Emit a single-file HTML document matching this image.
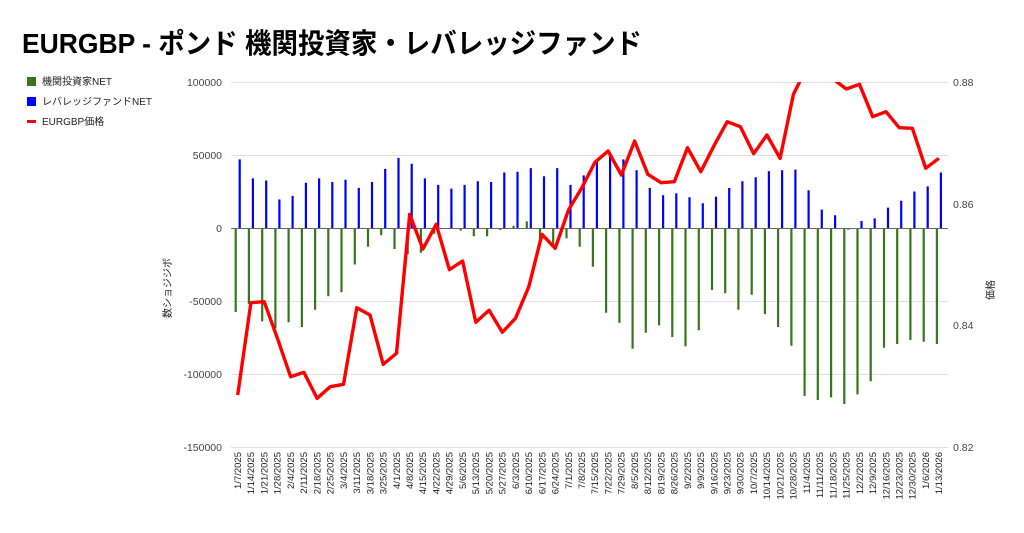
<!DOCTYPE html>
<html><head><meta charset="utf-8"><style>
body{margin:0;background:#fff;width:1024px;height:528px;overflow:hidden}
svg text{font-family:"Liberation Sans","Noto Sans CJK JP",sans-serif}
</style></head><body>
<svg width="1024" height="528" viewBox="0 0 1024 528" xmlns="http://www.w3.org/2000/svg">
<text x="22" y="53" font-size="28" font-weight="bold" fill="#000" textLength="620" lengthAdjust="spacingAndGlyphs">EURGBP - ポンド 機関投資家・レバレッジファンド</text>
<rect x="27" y="77" width="9" height="9" fill="#38761d"/>
<text x="42" y="85" font-size="10" fill="#222">機関投資家NET</text>
<rect x="27" y="97" width="9" height="9" fill="#0000ff"/>
<text x="42" y="105" font-size="10" fill="#222">レバレッジファンドNET</text>
<rect x="27" y="120" width="9" height="3" fill="#ff0000"/>
<text x="42" y="125" font-size="10" fill="#222">EURGBP価格</text>
<g stroke="#e0e0e0" stroke-width="1">
<line x1="231" x2="948" y1="82.5" y2="82.5"/><line x1="231" x2="948" y1="155.5" y2="155.5"/>
<line x1="231" x2="948" y1="301.5" y2="301.5"/><line x1="231" x2="948" y1="374.5" y2="374.5"/>
<line x1="231" x2="948" y1="447.5" y2="447.5"/></g>
<g font-size="10.5" fill="#444" text-anchor="end">
<text x="222" y="86">100000</text><text x="222" y="159">50000</text><text x="222" y="232">0</text>
<text x="222" y="305">-50000</text><text x="222" y="378">-100000</text><text x="222" y="451">-150000</text></g>
<g font-size="10.5" fill="#444">
<text x="953" y="86">0.88</text><text x="953" y="208">0.86</text><text x="953" y="329">0.84</text><text x="953" y="451">0.82</text></g>
<text transform="translate(171,288) rotate(-90)" font-size="10" text-anchor="middle" fill="#222">数ショジジボ</text>
<text transform="translate(994,290) rotate(-90)" font-size="10" text-anchor="middle" fill="#222">価格</text>
<path stroke="#38761d" stroke-width="2.2" fill="none" d="M235.7 228V312M248.9 228V304M262.2 228V321.4M275.4 228V328M288.6 228V322.3M301.9 228V327M315.1 228V309.8M328.3 228V296.3M341.5 228V292.2M354.8 228V264.5M368 228V246.7M381.2 228V235.3M394.5 228V249M407.7 228V254.3M420.9 228V252.8M434.2 228V233.8M447.4 228V229M460.6 228V230.6M473.8 228V236.3M487.1 228V236.3M500.3 228V230M513.5 228V225.8M526.8 228V221.4M540 228V239.7M553.2 228V244.6M566.5 228V238.2M579.7 228V246.7M592.9 228V266.7M606.1 228V312.7M619.4 228V322.9M632.6 228V348.6M645.8 228V332.7M659.1 228V325.4M672.3 228V337M685.5 228V346.3M698.8 228V330.2M712 228V290M725.2 228V293.3M738.4 228V309.8M751.7 228V294.7M764.9 228V314.1M778.1 228V327M791.4 228V345.7M804.6 228V395.9M817.8 228V400M831.1 228V397.4M844.3 228V404M857.5 228V394.4M870.7 228V381.3M884 228V347.7M897.2 228V344M910.4 228V340M923.7 228V341.7M936.9 228V344"/>
<path stroke="#0000ff" stroke-width="2.2" fill="none" d="M239.7 228V159.4M252.9 228V178.4M266.2 228V180.5M279.4 228V199.5M292.6 228V195.9M305.9 228V182.7M319.1 228V178.4M332.3 228V182M345.5 228V179.8M358.8 228V187.9M372 228V182M385.2 228V168.9M398.5 228V157.9M411.7 228V163.8M424.9 228V178.4M438.2 228V184.9M451.4 228V188.6M464.6 228V184.9M477.8 228V181.3M491.1 228V182M504.3 228V172.5M517.5 228V171.8M530.8 228V168.1M544 228V176.2M557.2 228V168.1M570.5 228V184.9M583.7 228V175.4M596.9 228V161.3M610.1 228V155M623.4 228V159.4M636.6 228V170.3M649.8 228V188M663.1 228V195.3M676.3 228V193.4M689.5 228V197.3M702.8 228V203.2M716 228V196.6M729.2 228V188M742.4 228V181.3M755.7 228V177.3M768.9 228V171.1M782.1 228V170.3M795.4 228V169.6M808.6 228V190.3M821.8 228V209.6M835.1 228V215.3M848.3 228V229.5M861.5 228V221M874.7 228V218.4M888 228V207.6M901.2 228V200.7M914.4 228V191.5M927.7 228V186.4M940.9 228V172.5"/>
<line x1="231" x2="948" y1="228.5" y2="228.5" stroke="#666" stroke-width="1"/>
<defs><clipPath id="c"><rect x="225" y="82" width="730" height="370"/></clipPath></defs>
<polyline clip-path="url(#c)" fill="none" stroke="#ff0000" stroke-width="3.4" stroke-linejoin="round" points="237.7,395 250.9,302.7 264.2,301.7 277.4,338.3 290.6,376.7 303.9,372.3 317.1,398.3 330.3,386.7 343.5,384.3 356.8,307.7 370,315 383.2,364.3 396.5,353.3 409.7,214.3 422.9,249 436.2,224.3 449.4,269.7 462.6,261 475.8,322.3 489.1,310.3 502.3,332.3 515.5,318.3 528.8,286.7 542,234.3 555.2,248.3 568.5,210 581.7,188 594.9,162.3 608.1,151 621.4,175 634.6,141 647.8,174.3 661.1,182.7 674.3,181.7 687.5,147.7 700.8,171.7 714,145.7 727.2,121.7 740.4,126.7 753.7,153.7 766.9,135 780.1,158.3 793.4,94.3 806.6,68 819.8,70 833.1,79 846.3,89 859.5,84.3 872.7,116.7 886,111.7 899.2,127.7 912.4,128.3 925.7,168.3 938.9,158.3"/>
<g font-size="9.5" fill="#222" text-anchor="end">
<text transform="translate(241,452) rotate(-90)">1/7/2025</text>
<text transform="translate(254.2,452) rotate(-90)">1/14/2025</text>
<text transform="translate(267.5,452) rotate(-90)">1/21/2025</text>
<text transform="translate(280.7,452) rotate(-90)">1/28/2025</text>
<text transform="translate(293.9,452) rotate(-90)">2/4/2025</text>
<text transform="translate(307.2,452) rotate(-90)">2/11/2025</text>
<text transform="translate(320.4,452) rotate(-90)">2/18/2025</text>
<text transform="translate(333.6,452) rotate(-90)">2/25/2025</text>
<text transform="translate(346.8,452) rotate(-90)">3/4/2025</text>
<text transform="translate(360.1,452) rotate(-90)">3/11/2025</text>
<text transform="translate(373.3,452) rotate(-90)">3/18/2025</text>
<text transform="translate(386.5,452) rotate(-90)">3/25/2025</text>
<text transform="translate(399.8,452) rotate(-90)">4/1/2025</text>
<text transform="translate(413,452) rotate(-90)">4/8/2025</text>
<text transform="translate(426.2,452) rotate(-90)">4/15/2025</text>
<text transform="translate(439.5,452) rotate(-90)">4/22/2025</text>
<text transform="translate(452.7,452) rotate(-90)">4/29/2025</text>
<text transform="translate(465.9,452) rotate(-90)">5/6/2025</text>
<text transform="translate(479.1,452) rotate(-90)">5/13/2025</text>
<text transform="translate(492.4,452) rotate(-90)">5/20/2025</text>
<text transform="translate(505.6,452) rotate(-90)">5/27/2025</text>
<text transform="translate(518.8,452) rotate(-90)">6/3/2025</text>
<text transform="translate(532.1,452) rotate(-90)">6/10/2025</text>
<text transform="translate(545.3,452) rotate(-90)">6/17/2025</text>
<text transform="translate(558.5,452) rotate(-90)">6/24/2025</text>
<text transform="translate(571.8,452) rotate(-90)">7/1/2025</text>
<text transform="translate(585,452) rotate(-90)">7/8/2025</text>
<text transform="translate(598.2,452) rotate(-90)">7/15/2025</text>
<text transform="translate(611.4,452) rotate(-90)">7/22/2025</text>
<text transform="translate(624.7,452) rotate(-90)">7/29/2025</text>
<text transform="translate(637.9,452) rotate(-90)">8/5/2025</text>
<text transform="translate(651.1,452) rotate(-90)">8/12/2025</text>
<text transform="translate(664.4,452) rotate(-90)">8/19/2025</text>
<text transform="translate(677.6,452) rotate(-90)">8/26/2025</text>
<text transform="translate(690.8,452) rotate(-90)">9/2/2025</text>
<text transform="translate(704.1,452) rotate(-90)">9/9/2025</text>
<text transform="translate(717.3,452) rotate(-90)">9/16/2025</text>
<text transform="translate(730.5,452) rotate(-90)">9/23/2025</text>
<text transform="translate(743.7,452) rotate(-90)">9/30/2025</text>
<text transform="translate(757,452) rotate(-90)">10/7/2025</text>
<text transform="translate(770.2,452) rotate(-90)">10/14/2025</text>
<text transform="translate(783.4,452) rotate(-90)">10/21/2025</text>
<text transform="translate(796.7,452) rotate(-90)">10/28/2025</text>
<text transform="translate(809.9,452) rotate(-90)">11/4/2025</text>
<text transform="translate(823.1,452) rotate(-90)">11/11/2025</text>
<text transform="translate(836.4,452) rotate(-90)">11/18/2025</text>
<text transform="translate(849.6,452) rotate(-90)">11/25/2025</text>
<text transform="translate(862.8,452) rotate(-90)">12/2/2025</text>
<text transform="translate(876,452) rotate(-90)">12/9/2025</text>
<text transform="translate(889.3,452) rotate(-90)">12/16/2025</text>
<text transform="translate(902.5,452) rotate(-90)">12/23/2025</text>
<text transform="translate(915.7,452) rotate(-90)">12/30/2025</text>
<text transform="translate(929,452) rotate(-90)">1/6/2026</text>
<text transform="translate(942.2,452) rotate(-90)">1/13/2026</text>
</g>
</svg>
</body></html>
